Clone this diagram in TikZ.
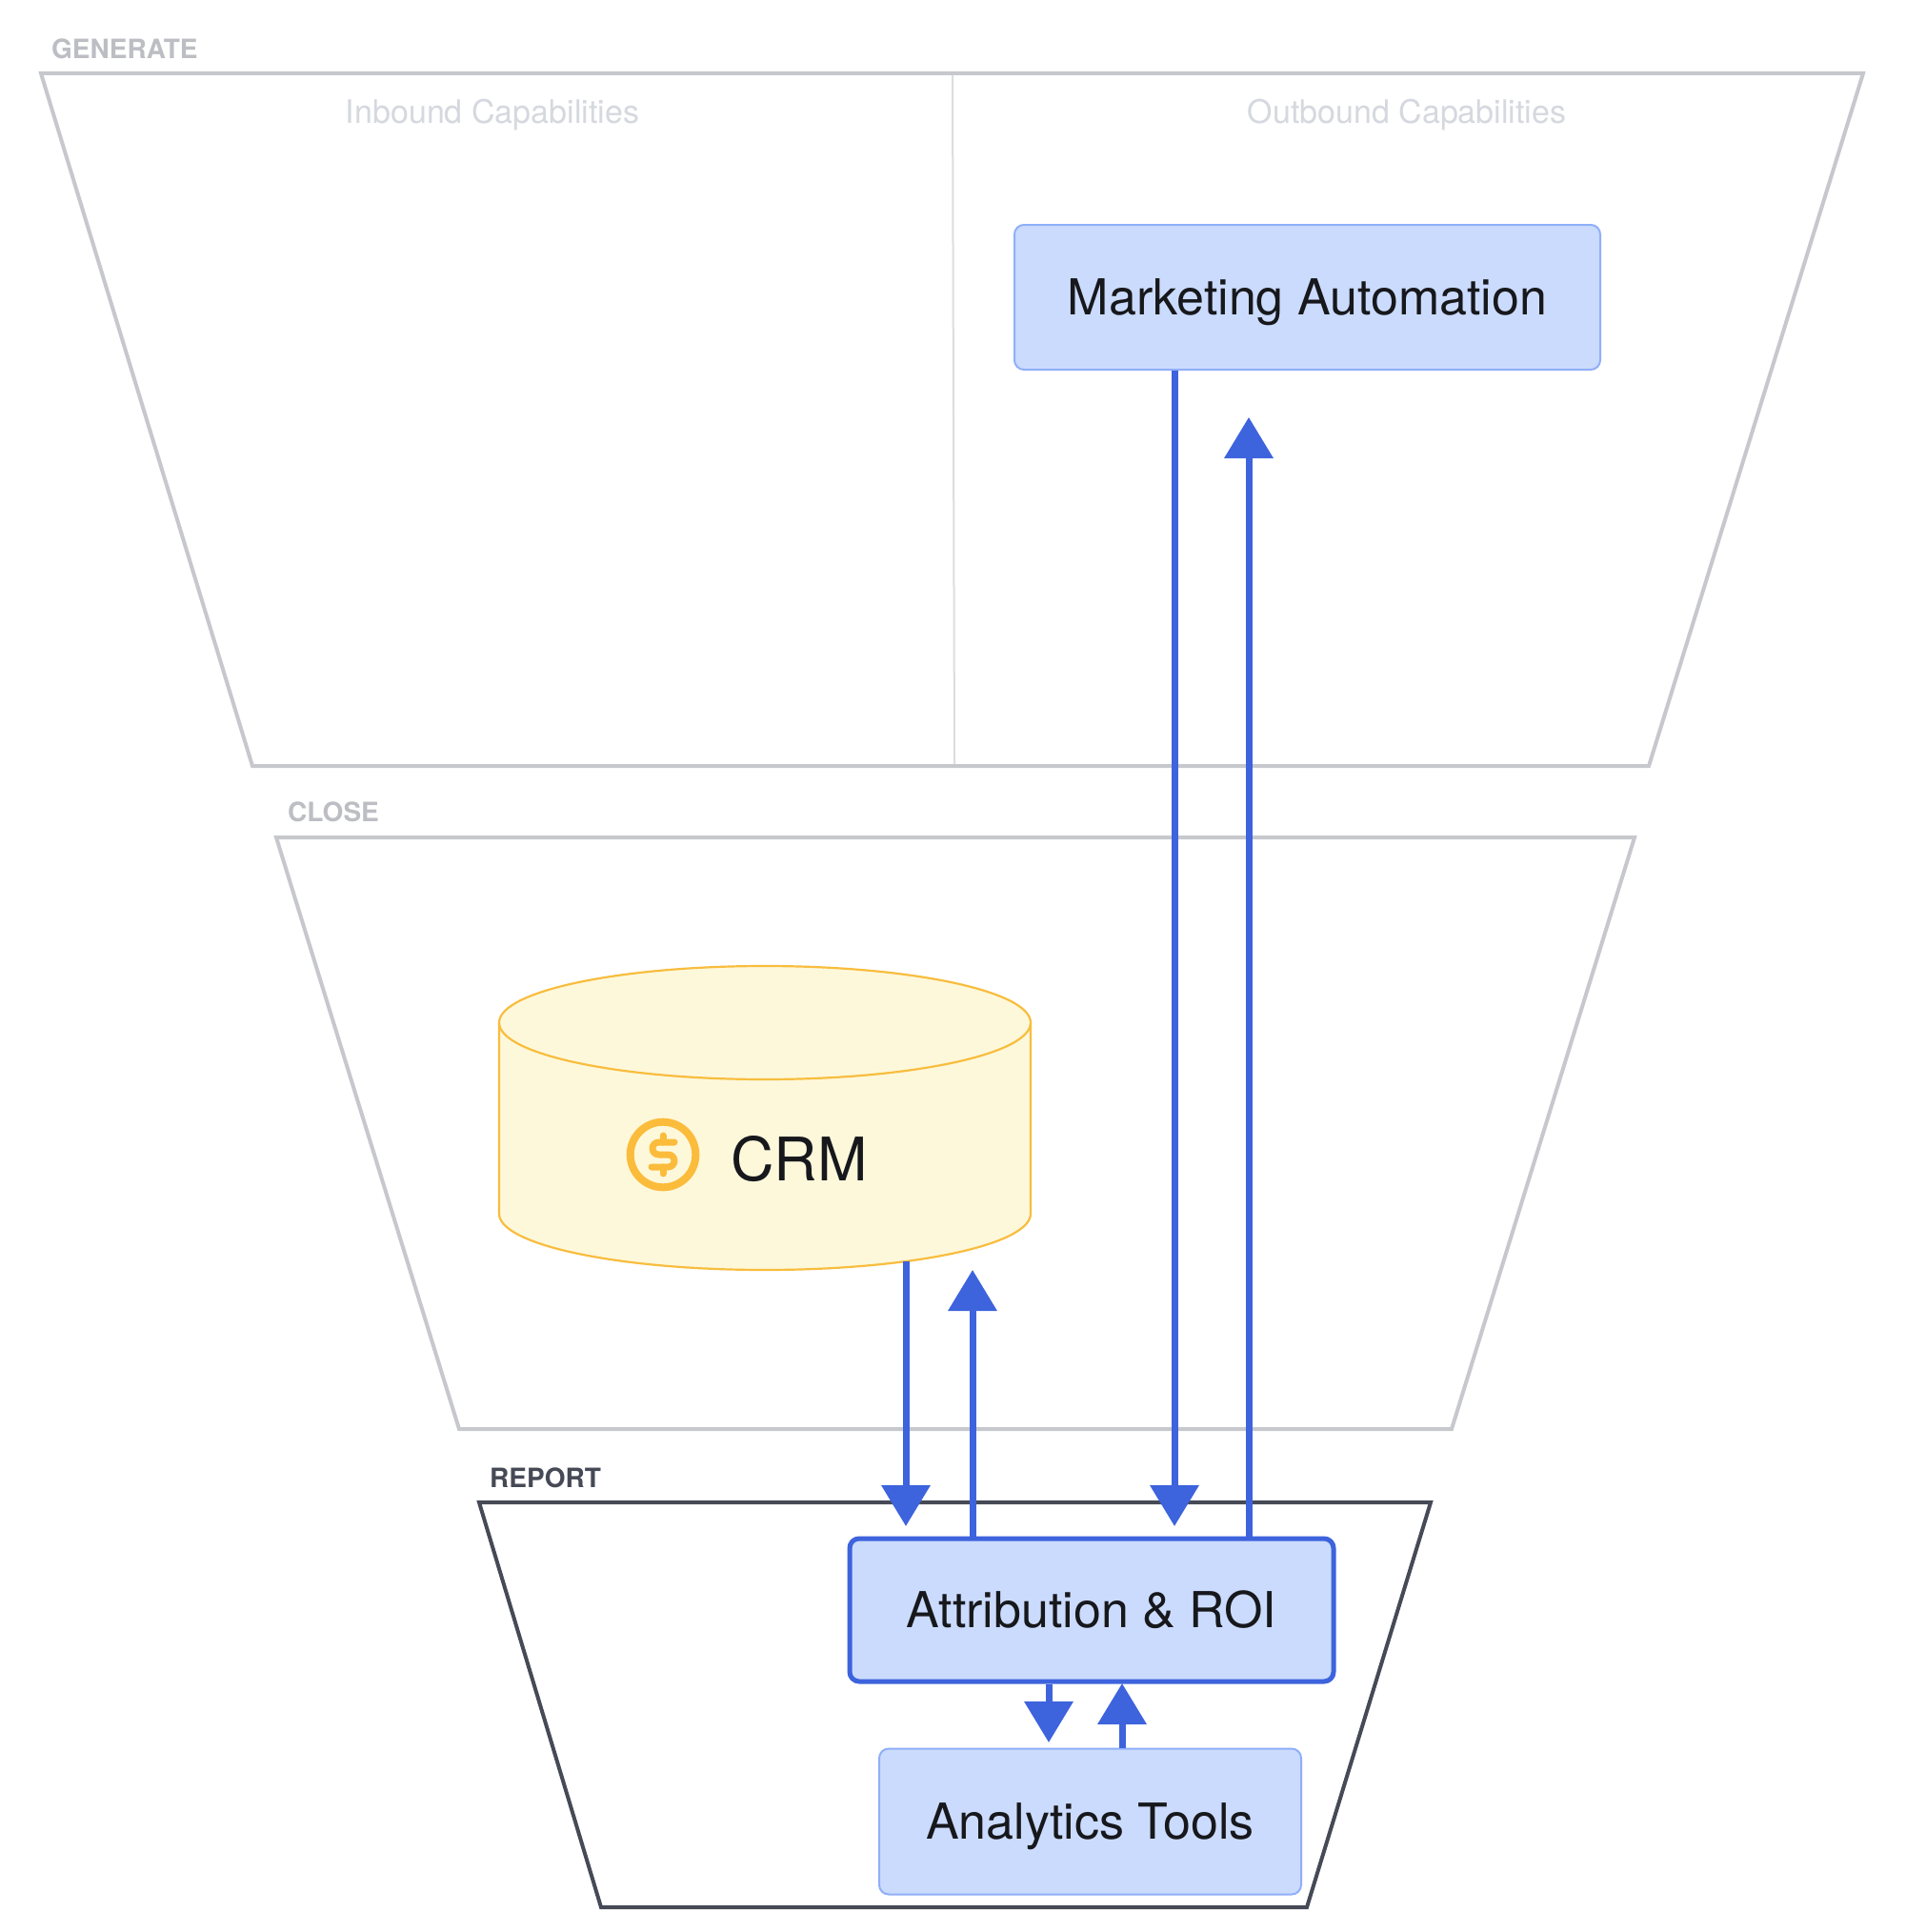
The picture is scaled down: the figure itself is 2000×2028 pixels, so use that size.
\documentclass[tikz,border=0pt]{standalone}
\usepackage{fontspec}
\setmainfont{TeX Gyre Heros}
\usetikzlibrary{arrows.meta}
\definecolor{stagegray}{HTML}{C7C8CD}
\definecolor{labelgray}{HTML}{BDBEC4}
\definecolor{palegray}{HTML}{D6D8DF}
\definecolor{divgray}{HTML}{DCDDE1}
\definecolor{darkline}{HTML}{464A56}
\definecolor{arrowblue}{HTML}{3D63DD}
\definecolor{boxfill}{HTML}{CBDBFD}
\definecolor{boxline}{HTML}{8FAFF8}
\definecolor{cylfill}{HTML}{FEF8DB}
\definecolor{cylline}{HTML}{F8BD3E}
\definecolor{iconorange}{HTML}{FBBC3B}
\definecolor{inktext}{HTML}{17181C}
\begin{document}
\begin{tikzpicture}[x=1pt,y=-1pt,
  stageline/.style={draw=stagegray, line width=4pt, line join=miter},
  reportline/.style={draw=darkline, line width=4pt, line join=miter},
  divline/.style={draw=divgray, line width=2pt},
  stagelabel/.style={text=labelgray, inner sep=0pt, anchor=base west, font=\fontsize{28}{32}\selectfont\bfseries},
  sublabel/.style={text=palegray, inner sep=0pt, anchor=base, font=\fontsize{34}{40}\selectfont},
  boxbase/.style={rectangle, rounded corners=10pt, fill=boxfill, text=inktext, inner sep=0pt,
    font=\fontsize{52}{60}\selectfont, text height=37pt, text depth=0pt},
  softbox/.style={boxbase, draw=boxline, line width=2pt},
  strongbox/.style={boxbase, draw=arrowblue, line width=5pt},
  arr/.style={draw=arrowblue, line width=7pt, -{Triangle[length=43pt,width=50pt]}},
  iconline/.style={draw=iconorange, line width=7pt, line cap=round, line join=round}
]
\useasboundingbox (0,0) rectangle (2000,2028);
\fill[white] (0,0) rectangle (2000,2028);

% stages
\draw[stageline] (43,77) -- (1956,77) -- (1731,804) -- (265,804) -- cycle;
\draw[divline] (1000,79) -- (1002,802);
\draw[stageline] (290,879) -- (1716,879) -- (1524,1500) -- (482,1500) -- cycle;
\draw[reportline] (503,1577) -- (1502,1577) -- (1372,2002) -- (631,2002) -- cycle;

% stage labels
\node[stagelabel] (lgen) at (54,62) {GENERATE};
\node[stagelabel] (lclose) at (302,862) {CLOSE};
\node[stagelabel, text=darkline] (lrep) at (514,1561) {REPORT};
\node[sublabel] (lin) at (517,130) {Inbound Capabilities};
\node[sublabel] (lout) at (1477,130) {Outbound Capabilities};

% boxes
\node[softbox, minimum width=615pt, minimum height=152pt] (ma) at (1372.5,312) {Marketing Automation};
\node[strongbox, minimum width=508pt, minimum height=150pt] (attr) at (1146,1690) {Attribution \& ROI};
\node[softbox, minimum width=443pt, minimum height=153pt] (ana) at (1144.5,1912) {Analytics Tools};

% CRM cylinder
\fill[cylfill] (524,1073.5) -- (524,1274) arc[start angle=180, end angle=0, x radius=279, y radius=59]
  -- (1082,1073.5) arc[start angle=0, end angle=-180, x radius=279, y radius=59.5] -- cycle;
\draw[cylline, line width=2.2pt] (524,1073.5) -- (524,1274)
  arc[start angle=180, end angle=0, x radius=279, y radius=59] -- (1082,1073.5);
\draw[cylline, line width=2.2pt] (803,1073.5) ellipse[x radius=279, y radius=59.5];

% dollar icon
\draw[draw=iconorange, line width=8pt] (696,1212) circle[radius=34.3];
\draw[iconline] (708,1199) -- (691.5,1199) arc[start angle=270, end angle=90, radius=6.5]
  -- (701.5,1212) arc[start angle=-90, end angle=90, radius=6.5] -- (684,1225);
\draw[iconline] (696,1192) -- (696,1199);
\draw[iconline] (696,1225) -- (696,1232);
\node[text=inktext, inner sep=0pt, anchor=base west, font=\fontsize{63}{70}\selectfont] (crm) at (767,1239) {CRM};

% connector ends
\coordinate (crmout) at (951,1324);
\coordinate (tipA) at (951,1602);
\coordinate (crmin) at (1021,1333);
\coordinate (tipB) at (1233,1602);
\coordinate (main) at (1311,438);
\coordinate (tipC) at (1101,1829);
\coordinate (tipD) at (1178,1767);

% connectors
\draw[arr] (crmout) -- (tipA);
\draw[arr] (attr.north -| crmin) -- (crmin);
\draw[arr] (ma.south -| tipB) -- (tipB);
\draw[arr] (attr.north -| main) -- (main);
\draw[arr] (attr.south -| tipC) -- (tipC);
\draw[arr] (ana.north -| tipD) -- (tipD);
\end{tikzpicture}
\end{document}
